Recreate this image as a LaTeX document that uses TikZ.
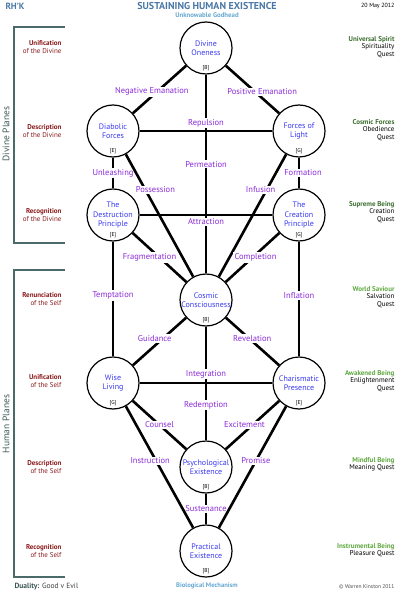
\documentclass[tikz,border=0pt]{standalone}
\usepackage{fontspec}
\setmainfont{PT Sans}
\usetikzlibrary{positioning}

\definecolor{nodeblue}{HTML}{3A3AF2}
\definecolor{lblpurple}{HTML}{8B2BD9}
\definecolor{planered}{HTML}{8B1A1A}
\definecolor{divgreen}{HTML}{3C6E30}
\definecolor{humgreen}{HTML}{5FA840}
\definecolor{titleblue}{HTML}{4A78A6}
\definecolor{skyblue}{HTML}{66A8D2}
\definecolor{slate}{HTML}{4B6A6A}

\newcommand{\fsz}[1]{\fontsize{#1}{#1}\selectfont}
\newcommand{\tg}[1]{[#1]}

\begin{document}
\begin{tikzpicture}[x=1pt,
            y=-1pt,
            sephira/.style={circle, draw, line width=1.2pt, fill=white,
                            minimum size=52pt, inner sep=0pt, align=center,
                            text=nodeblue, font=\fontsize{8}{9}\selectfont},
            tagl/.style={font=\fsz{5.5}, text=black, anchor=base, yshift=5pt},
            lbl/.style={fill=white, text=lblpurple, font=\fsz{8.5}, inner sep=1.2pt},
            every edge/.style={draw, line width=2.6pt},
            plane/.style={anchor=east, align=right, text=planered,
                          font=\fontsize{7}{8.3}\selectfont},
            quest/.style={anchor=east, align=right, text=black,
                          font=\fontsize{7}{7.4}\selectfont},
            bracket/.style={draw=slate, line width=1.3pt}]

        \useasboundingbox (0,0) rectangle (400,593);

        \node[anchor=west, font=\fsz{9}\bfseries, text=titleblue] (rhk) at (2,6) {RH'K};
        \node[font=\fsz{10}\bfseries, text=titleblue] (title) at (207,6) {SUSTAINING HUMAN EXISTENCE};
        \node[anchor=east, font=\fsz{6}] (date) at (398,6) {20 May 2012};
        \node[font=\fsz{6.8}\bfseries, text=skyblue] (godhead) at (207,15) {Unknowable Godhead};
        \node[font=\fsz{6.6}\bfseries, text=skyblue] (biomech) at (207,586) {Biological Mechanism};
        \node[anchor=west, font=\fsz{7.5}, text=black!75] (duality) at (11,587)
            {\textcolor{slate!80!black}{\textbf{Duality:}} Good v Evil};
        \node[anchor=east, font=\fsz{5.5}, text=black!70] (copy) at (398,587) {© Warren Kinston 2011};

        \draw[bracket] (65,27) -| (14,243) -- (65,243);
        \draw[bracket] (65,270) -| (14,577) -- (65,577);
        \node[rotate=90, font=\fsz{9.5}, text=slate!85!black] (divplanes) at (6,134) {Divine Planes};
        \node[rotate=90, font=\fsz{9.5}, text=slate!85!black] (humplanes) at (6,424) {Human Planes};

        \node[plane] (p1) at (65,47)  {\textbf{Unification}\\of the Divine};
        \node[plane] (p2) at (65,131) {\textbf{Description}\\of the Divine};
        \node[plane] (p3) at (65,215) {\textbf{Recognition}\\of the Divine};
        \node[plane] (p4) at (65,299) {\textbf{Renunciation}\\of the Self};
        \node[plane] (p5) at (65,381) {\textbf{Unification}\\of the Self};
        \node[plane] (p6) at (65,467) {\textbf{Description}\\of the Self};
        \node[plane] (p7) at (65,551) {\textbf{Recognition}\\of the Self};

        \node[quest] (q1) at (398,47)  {\textcolor{divgreen}{\textbf{Universal Spirit}}\\Spirituality\\Quest};
        \node[quest] (q2) at (398,130) {\textcolor{divgreen}{\textbf{Cosmic Forces}}\\Obedience\\Quest};
        \node[quest] (q3) at (398,212) {\textcolor{divgreen}{\textbf{Supreme Being}}\\Creation\\Quest};
        \node[quest] (q4) at (398,297) {\textcolor{humgreen}{\textbf{World Saviour}}\\Salvation\\Quest};
        \node[quest] (q5) at (398,381) {\textcolor{humgreen}{\textbf{Awakened Being}}\\Enlightenment\\Quest};
        \node[quest] (q6) at (398,464) {\textcolor{humgreen}{\textbf{Mindful Being}}\\Meaning Quest};
        \node[quest] (q7) at (398,550) {\textcolor{humgreen}{\textbf{Instrumental Being}}\\Pleasure Quest};

        \node[sephira, label={[tagl]below:\tg{B}}] (divine) at (206,48)  {Divine\\Oneness};
        \node[sephira, label={[tagl]below:\tg{E}}] (diab)   at (113,131) {Diabolic\\Forces};
        \node[sephira, label={[tagl]below:\tg{G}}] (light)  at (299,131) {Forces of\\Light};
        \node[sephira, label={[tagl]below:\tg{E}}] (destr)  at (113,215) {The\\Destruction\\Principle};
        \node[sephira, label={[tagl]below:\tg{G}}] (creat)  at (299,215) {The\\Creation\\Principle};
        \node[sephira, label={[tagl]below:\tg{B}}] (cosmic) at (206,300) {Cosmic\\Consciousness};
        \node[sephira, label={[tagl]below:\tg{G}}] (wise)   at (113,383) {Wise\\Living};
        \node[sephira, label={[tagl]below:\tg{E}}] (charis) at (299,383) {Charismatic\\Presence};
        \node[sephira, label={[tagl]below:\tg{B}}] (psych)  at (206,467) {Psychological\\Existence};
        \node[sephira, label={[tagl]below:\tg{B}}] (pract)  at (206,551) {Practical\\Existence};

        \path (divine) edge node[lbl, pos=.45]                {Permeation}         (cosmic)
              (cosmic) edge node[lbl, pos=.69]                {Redemption}         (psych)
              (psych)  edge node[lbl]                         {Sustenance}         (pract)
              (divine) edge node[lbl, pos=.55, xshift=-5pt]   {Negative Emanation} (diab)
                       edge node[lbl, pos=.55, xshift=7pt]    {Positive Emanation} (light)
              (diab)   edge node[lbl, yshift=8pt]             {Repulsion}          (light)
                       edge node[lbl]                         {Unleashing}         (destr)
                       edge node[lbl, pos=.29, xshift=10pt]   {Possession}         (cosmic)
              (light)  edge node[lbl, xshift=4pt]             {Formation}          (creat)
                       edge node[lbl, pos=.29, xshift=-6pt]   {Infusion}           (cosmic)
              (destr)  edge node[lbl, yshift=-7pt]            {Attraction}         (creat)
                       edge node[lbl, xshift=-10pt]           {Fragmentation}      (cosmic)
                       edge node[lbl, pos=.47]                {Temptation}         (wise)
              (creat)  edge node[lbl, xshift=3pt]             {Completion}         (cosmic)
                       edge node[lbl, pos=.47]                {Inflation}          (charis)
              (cosmic) edge node[lbl, pos=.44, xshift=-8pt]   {Guidance}           (wise)
                       edge node[lbl, pos=.44, xshift=3pt]    {Revelation}         (charis)
              (wise)   edge node[lbl, yshift=9pt]             {Integration}        (charis)
                       edge node[lbl]                         {Counsel}            (psych)
                       edge node[lbl, pos=.45, xshift=-6pt]   {Instruction}        (pract)
              (charis) edge node[lbl, xshift=-8pt]            {Excitement}         (psych)
                       edge node[lbl, pos=.45]                {Promise}            (pract);

    \end{tikzpicture}
\end{document}
